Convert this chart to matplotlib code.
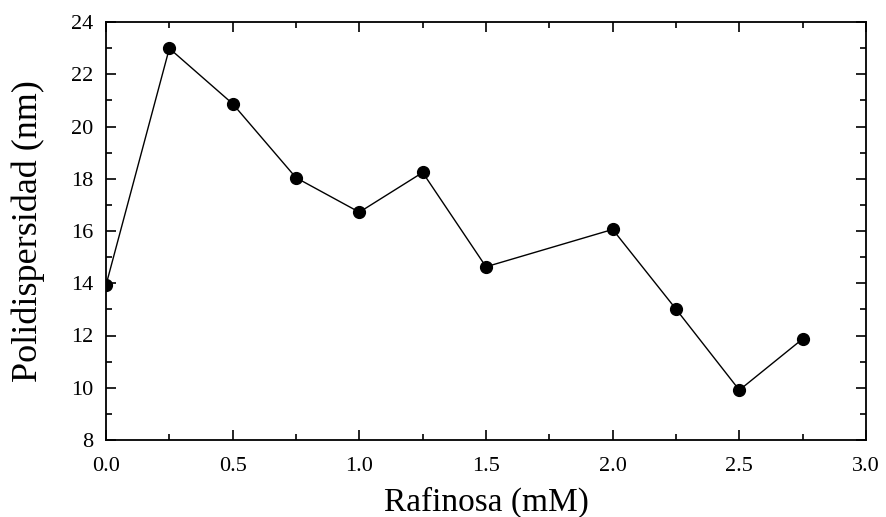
import matplotlib.pyplot as plt
from matplotlib.ticker import MultipleLocator

# data
rafinosa = [0.0, 0.25, 0.5, 0.75, 1.0, 1.25, 1.5, 2.0, 2.25, 2.5, 2.75]
polidispersidad = [13.93, 22.99, 20.87, 18.04, 16.72, 18.24, 14.63, 16.06, 13.01, 9.91, 11.87]

plt.rcParams['font.family'] = ['Liberation Serif', 'DejaVu Serif']

fig = plt.figure(figsize=(8.86, 5.17), dpi=100)
ax = fig.add_axes([106 / 886, 1 - 440 / 517, 760 / 886, 418 / 517])

ax.plot(rafinosa, polidispersidad, color='black', linewidth=1.0,
        marker='o', markersize=8.5, markerfacecolor='black', markeredgecolor='black')

ax.set_xlim(0, 3.0)
ax.set_ylim(8, 24)
ax.xaxis.set_major_locator(MultipleLocator(0.5))
ax.xaxis.set_minor_locator(MultipleLocator(0.25))
ax.yaxis.set_major_locator(MultipleLocator(2))
ax.yaxis.set_minor_locator(MultipleLocator(1))
ax.set_xticklabels([f'{v:.1f}' for v in ax.get_xticks()])

ax.tick_params(which='both', direction='in', top=True, right=True,
               labelsize=16, width=1.2)
ax.tick_params(which='major', length=7, pad=9)
ax.tick_params(axis='x', which='major', pad=12)
ax.tick_params(which='minor', length=4)
for s in ax.spines.values():
    s.set_linewidth(1.3)

# naming the axes
ax.set_xlabel('Rafinosa (mM)', fontsize=24, va='center')
ax.set_ylabel('Polidispersidad (nm)', fontsize=26, va='center')
ax.xaxis.set_label_coords(0.5, (440 - 502) / 418)
ax.yaxis.set_label_coords((28 - 106) / 760, 0.5)

fig.savefig('out.png', dpi=100)
